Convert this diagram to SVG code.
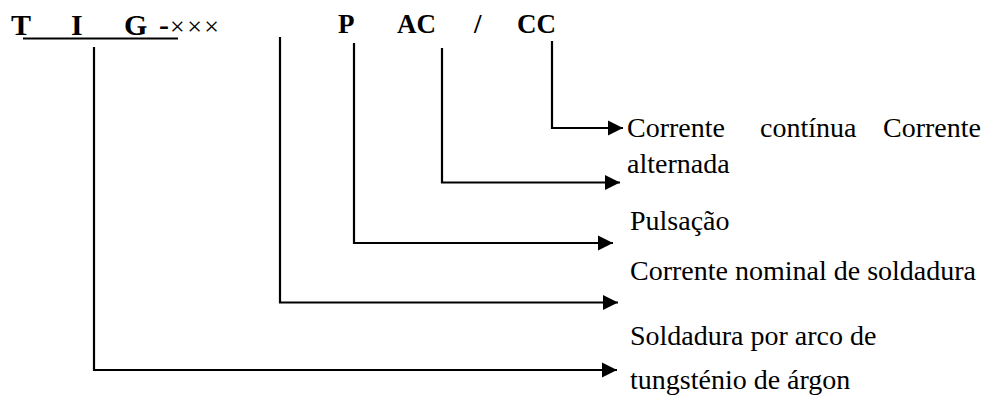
<svg xmlns="http://www.w3.org/2000/svg" width="993" height="399" viewBox="0 0 993 399">
<style>
.t{font-family:"Liberation Serif","Times New Roman",serif;fill:#000}
.b{font-weight:bold}
.lbl{font-size:28px}
.c{fill:none;stroke:#000;stroke-width:2.2}
</style>
<defs>
<marker id="ah" markerWidth="8" markerHeight="8" refX="7" refY="3.5" orient="auto" markerUnits="strokeWidth">
<path d="M0,0 L7,3.5 L0,7 Z" fill="#000"/>
</marker>
</defs>
<rect width="993" height="399" fill="#fff"/>
<g id="code">
<text class="t b" x="11" y="35" font-size="30">T</text>
<text class="t b" x="71" y="35" font-size="30">I</text>
<text class="t b" x="124" y="35" font-size="30">G</text>
<text class="t b" x="159" y="35" font-size="30">-</text>
<text class="t" x="170" y="35" font-size="26" letter-spacing="2.5">×××</text>
<line x1="23" y1="38.5" x2="178" y2="38.5" stroke="#000" stroke-width="2.2"/>
<text class="t b" x="338" y="33" font-size="27">P</text>
<text class="t b" x="397" y="33" font-size="27">AC</text>
<text class="t b" x="474" y="33" font-size="27">/</text>
<text class="t b" x="517" y="33" font-size="27">CC</text>
</g>
<g id="connectors">
<path class="c" d="M552,41 V128 H623" marker-end="url(#ah)"/>
<path class="c" d="M442,48 V182.5 H620" marker-end="url(#ah)"/>
<path class="c" d="M354,43 V243 H613" marker-end="url(#ah)"/>
<path class="c" d="M280,37 V302.5 H618" marker-end="url(#ah)"/>
<path class="c" d="M94,47 V370 H617" marker-end="url(#ah)"/>
</g>
<g id="n-cc">
<text class="t lbl" y="137"><tspan x="627">Corrente</tspan><tspan x="760">contínua</tspan><tspan x="883">Corrente</tspan></text>
<text class="t lbl" x="627" y="173">alternada</text>
</g>
<g id="n-p">
<text class="t lbl" x="630" y="230">Pulsação</text>
</g>
<g id="n-current">
<text class="t lbl" x="630" y="280">Corrente nominal de soldadura</text>
</g>
<g id="n-tig">
<text class="t lbl" x="630" y="345">Soldadura por arco de</text>
<text class="t lbl" x="630" y="389">tungsténio de árgon</text>
</g>
</svg>
